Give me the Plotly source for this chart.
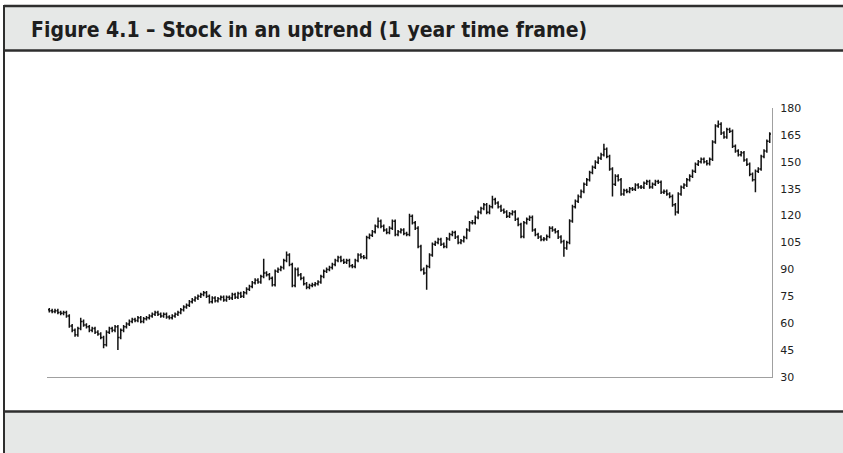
import plotly.graph_objects as go

# daily bars, 1 year (253 trading days)
opens = [67.5, 67, 66.5, 67, 66, 65.5, 66, 64, 58.5, 56,
         53.5, 57, 61, 59, 58, 56, 57, 55, 54, 52,
         48, 55, 57, 56, 58, 52, 56, 58, 59.5, 61,
         62, 61.5, 63, 61, 62.5, 63, 64, 65, 66, 65,
         64, 65, 63.5, 63, 64, 65, 66, 67.5, 69, 70,
         72, 73, 74, 75, 76, 77, 75, 72, 74, 72.5,
         73.6, 74.5, 73, 74.5, 74, 76, 74.5, 76.5, 75, 77,
         79, 80.5, 82.6, 84, 83, 86, 88, 87, 85, 81.5,
         89, 90, 91, 95, 98, 92.7, 81, 90, 87, 85,
         82, 80, 81, 81.5, 82, 83, 86, 89, 90, 91,
         92.7, 95, 96.6, 95, 94, 95, 92, 91.6, 95, 98,
         97, 96.6, 107.8, 109, 111, 114, 116.8, 114, 112, 110.6,
         113, 116.8, 109.5, 111, 112, 110, 109.5, 119.6, 116, 113,
         102.8, 90, 88, 91.6, 98, 104, 105, 106.7, 104, 102.8,
         107, 109.5, 110.6, 108, 105, 106, 107.8, 112, 116, 116,
         119, 121.8, 124, 126, 121.8, 125, 129, 127, 125, 123,
         122, 119.6, 121, 122, 118, 115, 108.4, 116, 118, 119,
         112, 109.5, 108, 106.7, 107, 108.4, 113, 112, 111, 108,
         105.5, 102, 105, 117, 125, 128, 130.7, 133.5, 137.5, 140,
         144, 147, 149.8, 152, 154, 157, 153, 146, 137.5, 142,
         140, 132, 134, 133.5, 135, 134.7, 137, 136, 135.8, 138,
         139, 136, 137.5, 139, 138.6, 133, 133.5, 132, 130.7, 126,
         122, 132, 135.8, 137, 140, 142, 144.7, 148.6, 150, 151.4,
         150, 149, 151.4, 161, 170, 171, 166, 163.8, 168, 167,
         158.7, 156, 154, 155, 151, 148.6, 143, 140, 144.7, 146,
         153, 156, 161.5]

highs = [68.5, 68, 68, 68, 67, 67, 67, 65, 59.5, 57,
         58, 63, 62, 60, 59, 58, 58, 56, 55, 53,
         56, 58, 58, 59, 59, 57, 59, 60.5, 62, 63,
         63, 64, 64, 63.5, 64, 65, 66, 67, 67, 66,
         66, 66, 64.5, 65, 66, 67, 68.5, 70, 71, 73,
         74, 75, 76, 77, 78, 78, 76, 75, 75, 74.6,
         75.5, 75.5, 75.5, 75.5, 77, 77, 77.5, 77.5, 78, 80,
         81.5, 83.6, 85, 85, 87, 96, 89, 88, 86, 90,
         91, 92, 96, 100, 99, 93.7, 91, 91, 88, 86,
         83, 82, 82.5, 83, 84, 87, 90, 91, 92, 93.7,
         96, 97.6, 97.6, 96, 96, 96, 93, 96, 99, 99,
         98, 108.8, 110, 112, 115, 119, 117.8, 115, 113, 114,
         117.8, 117.8, 112, 113, 113, 111, 121, 120.6, 117, 114,
         103.8, 91, 92.6, 99, 105, 106, 107.7, 107.7, 105, 108,
         110.5, 111.6, 111.6, 109, 107, 108.8, 113, 117, 117.5, 120,
         122.8, 125, 127, 127, 126, 131, 130, 128, 126, 124,
         123, 122, 123, 123, 119, 116, 117, 119, 120, 120,
         113, 110.5, 109, 108, 109.4, 114, 114, 113, 112, 109,
         106.5, 106, 118, 126, 129, 131.7, 134.5, 138.5, 141, 145,
         148, 150.8, 153, 155, 160, 158, 154, 147, 143, 143,
         141, 135, 135, 136, 136, 138, 138, 137, 139, 140,
         140, 138.5, 140, 140, 139.6, 134.5, 134.5, 133, 131.7, 127,
         133, 136.8, 138, 141, 143, 145.7, 149.6, 151, 152.4, 152.4,
         151, 152.4, 162, 171, 173, 172, 167, 169, 169, 168,
         159.7, 157, 156, 156, 152, 149.6, 144, 145.7, 147, 154,
         157, 162.5, 166.5]

lows = [66, 65.5, 65.5, 65, 64.5, 64.5, 63, 57.5, 55, 52.5,
        52.5, 56, 58, 57, 55, 55, 54, 53, 51, 46,
        47, 54, 55, 55, 45, 51, 55, 57, 58.5, 60,
        60.5, 60.5, 60, 60, 61.5, 62, 63, 64, 64, 63,
        63, 62.5, 62, 62, 63, 64, 65, 66.5, 68, 69,
        71, 72, 73, 74, 75, 74, 71, 71, 71.5, 71.5,
        72.6, 72, 72, 73, 73, 73.5, 73.5, 74, 74, 76,
        78, 79.5, 81.6, 82, 82, 85, 86, 84, 80.5, 80.5,
        88, 89, 90, 94, 91.7, 80, 80, 86, 84, 81,
        79, 79, 80, 80.5, 81, 82, 85, 88, 89, 90,
        91.7, 94, 94, 93, 93, 91, 90.6, 90.6, 94, 96,
        95.6, 95.6, 106.8, 108, 110, 113, 113, 111, 109.6, 109.6,
        112, 108.5, 108.5, 110, 109, 108.5, 108.5, 115, 112, 101.8,
        89, 87, 78.7, 90.6, 97, 103, 104, 103, 101.8, 101.8,
        106, 108.5, 107, 104, 104, 105, 106.8, 111, 115, 115,
        118, 120.8, 123, 120.8, 120.8, 124, 126, 124, 122, 121,
        118.6, 118.6, 120, 117, 114, 107.4, 107.4, 115, 117, 111,
        108.5, 107, 105.7, 105.7, 106, 107.4, 111, 110, 107, 104.5,
        97, 101, 104, 116, 124, 127, 129.7, 132.5, 136.5, 139,
        143, 146, 148.8, 151, 153, 152, 145, 130.7, 136.5, 139,
        131, 131, 132.5, 132.5, 133.7, 133.7, 135, 134.8, 134.8, 137,
        135, 135, 136.5, 137.6, 132, 132, 131, 129.7, 125, 120,
        121, 131, 134.8, 136, 139, 141, 143.7, 147.6, 149, 149,
        148, 148, 150.4, 160, 169, 165, 162.8, 162.8, 166, 157.7,
        155, 153, 153, 150, 147.6, 142, 139, 133, 143.7, 145,
        152, 155, 160.5]

closes = [67, 66.5, 67, 66, 65.5, 66, 64, 58.5, 56, 53.5,
          57, 61, 59, 58, 56, 57, 55, 54, 52, 48,
          55, 57, 56, 58, 52, 56, 58, 59.5, 61, 62,
          61.5, 63, 61, 62.5, 63, 64, 65, 66, 65, 64,
          65, 63.5, 63, 64, 65, 66, 67.5, 69, 70, 72,
          73, 74, 75, 76, 77, 75, 72, 74, 72.5, 73.6,
          74.5, 73, 74.5, 74, 76, 74.5, 76.5, 75, 77, 79,
          80.5, 82.6, 84, 83, 86, 88, 87, 85, 81.5, 89,
          90, 91, 95, 98, 92.7, 81, 90, 87, 85, 82,
          80, 81, 81.5, 82, 83, 86, 89, 90, 91, 92.7,
          95, 96.6, 95, 94, 95, 92, 91.6, 95, 98, 97,
          96.6, 107.8, 109, 111, 114, 116.8, 114, 112, 110.6, 113,
          116.8, 109.5, 111, 112, 110, 109.5, 119.6, 116, 113, 102.8,
          90, 88, 91.6, 98, 104, 105, 106.7, 104, 102.8, 107,
          109.5, 110.6, 108, 105, 106, 107.8, 112, 116, 116, 119,
          121.8, 124, 126, 121.8, 125, 129, 127, 125, 123, 122,
          119.6, 121, 122, 118, 115, 108.4, 116, 118, 119, 112,
          109.5, 108, 106.7, 107, 108.4, 113, 112, 111, 108, 105.5,
          102, 105, 117, 125, 128, 130.7, 133.5, 137.5, 140, 144,
          147, 149.8, 152, 154, 157, 153, 146, 137.5, 142, 140,
          132, 134, 133.5, 135, 134.7, 137, 136, 135.8, 138, 139,
          136, 137.5, 139, 138.6, 133, 133.5, 132, 130.7, 126, 122,
          132, 135.8, 137, 140, 142, 144.7, 148.6, 150, 151.4, 150,
          149, 151.4, 161, 170, 171, 166, 163.8, 168, 167, 158.7,
          156, 154, 155, 151, 148.6, 143, 140, 144.7, 146, 153,
          156, 161.5, 165.5]

days = list(range(len(closes)))

yticks = [30, 45, 60, 75, 90, 105, 120, 135, 150, 165, 180]

title_text = "<b>Figure 4.1 – Stock in an uptrend (1 year time frame)</b>"

# pixel frame of the plot area in the 843x453 page
W, H = 843, 453
L, R, T, B = 47, 772, 108, 377


def fx(p):
    return (p - L) / (R - L)


def fy(p):
    return (B - p) / (B - T)


fig = go.Figure(go.Ohlc(x=days, open=opens, high=highs, low=lows, close=closes,
                        increasing=dict(line=dict(color='#111111', width=1.5)),
                        decreasing=dict(line=dict(color='#111111', width=1.5)),
                        tickwidth=0.45, hoverinfo='skip', showlegend=False))

border = '#2e2e2e'
panel = '#e6e8e7'
shapes = [
    # title bar
    dict(type='rect', xref='paper', yref='paper', x0=fx(4), x1=fx(W + 5), y0=fy(50), y1=fy(5),
         fillcolor=panel, line=dict(width=0), layer='below'),
    dict(type='line', xref='paper', yref='paper', x0=fx(4), x1=fx(W + 5), y0=fy(6), y1=fy(6),
         line=dict(color=border, width=2.5)),
    dict(type='line', xref='paper', yref='paper', x0=fx(4), x1=fx(W + 5), y0=fy(50.5), y1=fy(50.5),
         line=dict(color=border, width=2.5)),
    # footer
    dict(type='rect', xref='paper', yref='paper', x0=fx(4), x1=fx(W + 5), y0=fy(H + 5), y1=fy(412),
         fillcolor=panel, line=dict(width=0), layer='below'),
    dict(type='line', xref='paper', yref='paper', x0=fx(4), x1=fx(W + 5), y0=fy(411.5), y1=fy(411.5),
         line=dict(color=border, width=2.5)),
    # left frame
    dict(type='line', xref='paper', yref='paper', x0=fx(4), x1=fx(4), y0=fy(5), y1=fy(H + 5),
         line=dict(color=border, width=2)),
]

fig.update_layout(
    width=W, height=H, autosize=False,
    margin=dict(l=L, r=W - R, t=T, b=H - B, pad=0),
    paper_bgcolor='white', plot_bgcolor='white',
    shapes=shapes,
    annotations=[dict(text=title_text, xref='paper', yref='paper', x=fx(29), y=fy(30.5),
                      xanchor='left', yanchor='middle', showarrow=False,
                      font=dict(family='Liberation Sans Narrow, DejaVu Sans Condensed, sans-serif',
                                size=21, color='#1e1e1e'))],
    xaxis=dict(range=[-0.8, 252.8], showgrid=False, zeroline=False, showticklabels=False,
               ticks='', showline=True, linecolor='#a0a0a0', linewidth=1.2,
               rangeslider=dict(visible=False), fixedrange=True),
    yaxis=dict(range=[30, 180], side='right', tickvals=yticks, showgrid=False, zeroline=False,
               showline=True, linecolor='#a0a0a0', linewidth=1.2, ticks='',
               ticklabelstandoff=5,
               tickfont=dict(family='DejaVu Sans', size=11, color='#222222'), fixedrange=True),
)

# drop the default body margin so the figure sits at the page origin
fig.write_html("out.html", config={'displayModeBar': False},
               post_script="document.body.style.margin='0';")
